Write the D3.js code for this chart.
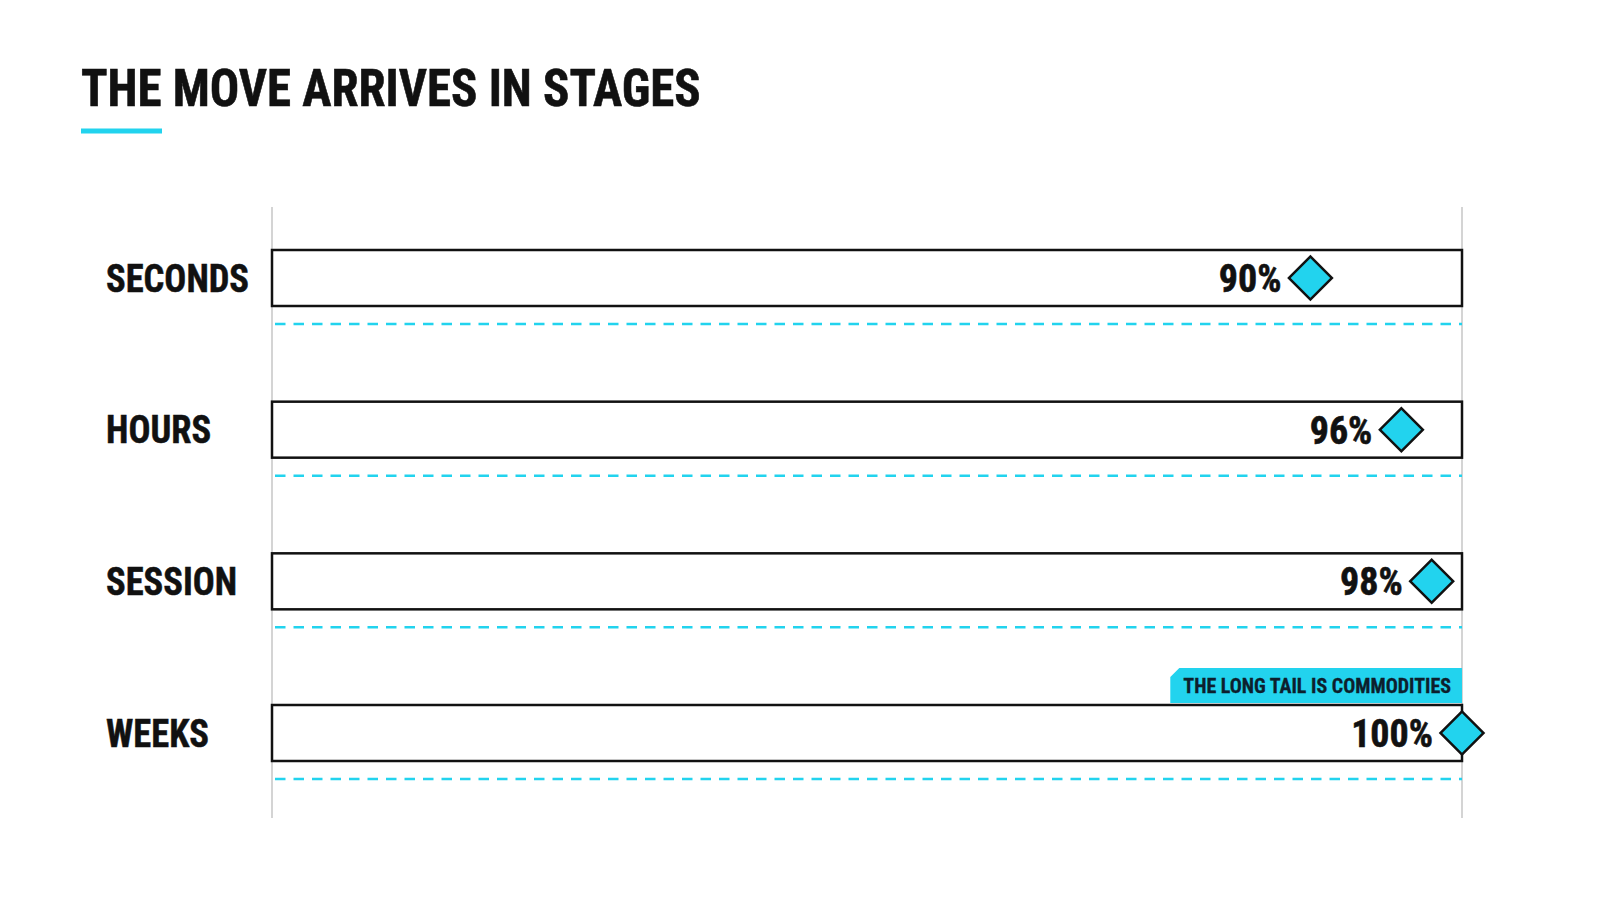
<!DOCTYPE html>
<html>
<head>
<meta charset="utf-8">
<script src="https://cdn.jsdelivr.net/npm/d3@7"></script>
<style>
  html, body { margin: 0; background: #fff; }
  svg { display: block; }
</style>
</head>
<body>
<svg id="chart" width="1600" height="914"></svg>
<script>
// data
const stages = ["SECONDS", "HOURS", "SESSION", "WEEKS"];
const shares = [90, 96, 98, 100];
const shareLabels = ["90%", "96%", "98%", "100%"];
const chartTitle = "THE MOVE ARRIVES IN STAGES";
const noteStage = "WEEKS";
const noteText = "THE LONG TAIL IS COMMODITIES";
const xDomain = [21.5, 100];

const cyan = "#22d3ee", ink = "#111111", gridGray = "#d4d4d4";
const font = "'Roboto Condensed', Roboto, sans-serif";

const svg = d3.select("#chart");

const x = d3.scaleLinear().domain(xDomain).range([272, 1462]);
const y = d3.scalePoint().domain(stages).range([278, 733]);
const barH = 56, gridTop = 207, gridBottom = 818;

// squeeze the glyphs so widths match the narrow reference face
function fit(sel, k) {
    sel.each(function () {
        const len = this.getComputedTextLength();
        d3.select(this)
            .attr("textLength", len * k)
            .attr("lengthAdjust", "spacingAndGlyphs");
    });
}

// title
svg.append("text")
    .attr("x", 81).attr("y", 106)
    .attr("font-family", font).attr("font-weight", 700).attr("font-size", 52)
    .attr("fill", ink).attr("stroke", ink).attr("stroke-width", 0.6)
    .text(chartTitle)
    .call(fit, 0.94);

svg.append("rect")
    .attr("x", 81).attr("y", 128.5)
    .attr("width", 81).attr("height", 5)
    .attr("fill", cyan);

// light verticals at both ends of the scale
svg.append("g")
  .selectAll("line")
  .data(xDomain)
  .join("line")
    .attr("x1", d => x(d)).attr("x2", d => x(d))
    .attr("y1", gridTop).attr("y2", gridBottom)
    .attr("stroke", gridGray).attr("stroke-width", 2);

const rows = svg.append("g")
  .selectAll("g")
  .data(stages.map((s, i) => ({ stage: s, value: shares[i], label: shareLabels[i] })))
  .join("g")
    .attr("transform", d => `translate(0, ${y(d.stage)})`);

rows.append("line")
    .attr("x1", x(xDomain[0]) + 3).attr("x2", x(xDomain[1]))
    .attr("y1", 46).attr("y2", 46)
    .attr("stroke", cyan).attr("stroke-width", 2.5)
    .attr("stroke-dasharray", "10.5,8");

rows.append("rect")
    .attr("x", x(xDomain[0]))
    .attr("y", -barH / 2)
    .attr("width", x(xDomain[1]) - x(xDomain[0]))
    .attr("height", barH)
    .attr("fill", "#fff")
    .attr("stroke", ink).attr("stroke-width", 2.5);

rows.append("text")
    .attr("x", 106).attr("y", 13.5)
    .attr("font-family", font).attr("font-weight", 700).attr("font-size", 38)
    .attr("fill", ink).attr("stroke", ink).attr("stroke-width", 0.5)
    .text(d => d.stage)
    .call(fit, 0.96);

rows.append("text")
    .attr("x", d => x(d.value) - 29).attr("y", 14)
    .attr("text-anchor", "end")
    .attr("font-family", font).attr("font-weight", 700).attr("font-size", 38)
    .attr("fill", ink).attr("stroke", ink).attr("stroke-width", 0.6)
    .text(d => d.label)
    .call(fit, 1.0);

// note tag above the last bar
const noteRow = rows.filter(d => d.stage === noteStage);
const tagRight = x(xDomain[1]), tagBottom = -barH / 2 - 2, tagH = 35;
const tag = noteRow.append("g");
const tagPath = tag.append("path").attr("fill", cyan);
const tagText = tag.append("text")
    .attr("x", tagRight - 11).attr("y", tagBottom - 10)
    .attr("text-anchor", "end")
    .attr("font-family", font).attr("font-weight", 700).attr("font-size", 20)
    .attr("fill", "#0d1f2d").attr("stroke", "#0d1f2d").attr("stroke-width", 0.3)
    .text(noteText)
    .call(fit, 1.0);
tagText.each(function () {
    const left = tagRight - 11 - (+d3.select(this).attr("textLength")) - 13;
    const top = tagBottom - tagH;
    tagPath.attr("d", `M${left},${tagBottom}V${top + 9}L${left + 9},${top}H${tagRight}V${tagBottom}Z`);
});

// markers
rows.append("path")
    .attr("d", d3.symbol(d3.symbolSquare, 924))
    .attr("transform", d => `translate(${x(d.value)}, 0) rotate(45)`)
    .attr("fill", cyan)
    .attr("stroke", ink).attr("stroke-width", 2.5)
    .attr("stroke-linejoin", "miter");
</script>
</body>
</html>
